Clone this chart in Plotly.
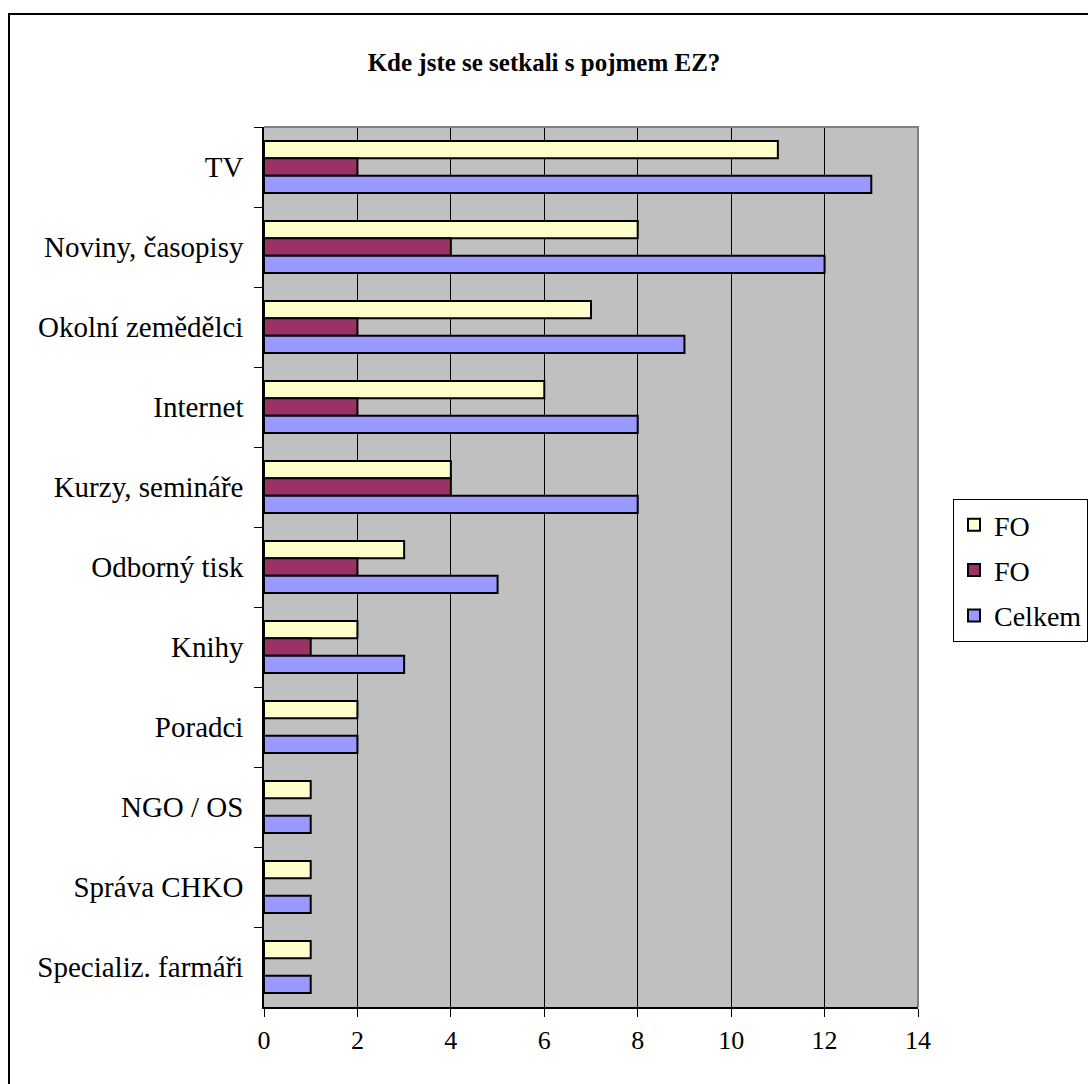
import plotly.graph_objects as go

categories = ["TV", "Noviny, časopisy", "Okolní zemědělci", "Internet", "Kurzy, semináře",
              "Odborný tisk", "Knihy", "Poradci", "NGO / OS", "Správa CHKO", "Specializ. farmáři"]
fo_a = [11, 8, 7, 6, 4, 3, 2, 2, 1, 1, 1]
fo_b = [2, 4, 2, 2, 4, 2, 1, 0, 0, 0, 0]
celkem = [13, 12, 9, 8, 8, 5, 3, 2, 1, 1, 1]
series_names = ["FO", "FO", "Celkem"]
colors = ["#FFFFCC", "#993366", "#9999FF"]
x_ticks = [0, 2, 4, 6, 8, 10, 12, 14]

FONT = "Liberation Serif"

fig = go.Figure()
for i, (name, vals, col) in enumerate(zip(series_names, [fo_a, fo_b, celkem], colors)):
    fig.add_trace(go.Bar(
        y=categories, x=vals, name=name, orientation="h", legendgroup=f"g{i}",
        marker=dict(color=col, line=dict(color="black", width=2)),
    ))

L, R, T, B = 264, 1088 - 918, 127, 1084 - 1007
W, H = 1088, 1084
pw, ph = W - L - R, H - T - B

fig.update_layout(
    width=W, height=H,
    margin=dict(l=L, r=R, t=T, b=B, autoexpand=False),
    paper_bgcolor="white",
    plot_bgcolor="#C0C0C0",
    barmode="group",
    bargap=0.35,
    bargroupgap=0,
    font=dict(family=FONT, size=29, color="black"),
    title=dict(text="<b>Kde jste se setkali s pojmem EZ?</b>",
               x=0.5, xanchor="center", xref="container",
               y=1 - 62 / H, yanchor="middle", yref="container",
               font=dict(family=FONT, size=25, color="black")),
    legend=dict(x=(953 - L) / pw, xanchor="left", y=(1007 - 499) / ph, yanchor="top",
                bordercolor="black", borderwidth=1, bgcolor="white",
                font=dict(family=FONT, size=28), tracegroupgap=6,
                itemwidth=30),
    showlegend=True,
    xaxis=dict(range=[0, 14], tickvals=x_ticks, ticktext=[str(v) for v in x_ticks],
               tickfont=dict(family=FONT, size=26),
               showgrid=True, gridcolor="black", gridwidth=1,
               showline=True, linecolor="black", linewidth=1.5,
               ticks="outside", ticklen=8, tickcolor="black",
               ticklabelstandoff=1, zeroline=False, fixedrange=True),
    yaxis=dict(autorange="reversed", type="category",
               showline=True, linecolor="black", linewidth=1.5,
               ticks="outside", ticklen=8, tickcolor="black",
               tickson="boundaries", showgrid=False,
               ticklabelstandoff=13, fixedrange=True),
    shapes=[
        dict(type="path", xref="paper", yref="paper",
             path="M 0,1 L 1,1 L 1,0", line=dict(color="#808080", width=2), layer="above"),
        dict(type="rect", xref="paper", yref="paper",
             x0=(9 - L) / pw, x1=(W + 5 - L) / pw,
             y0=(1007 - H - 5) / ph, y1=1 + (T - 14) / ph,
             line=dict(color="black", width=2), layer="below"),
    ],
)

fig.write_html("out.html")
